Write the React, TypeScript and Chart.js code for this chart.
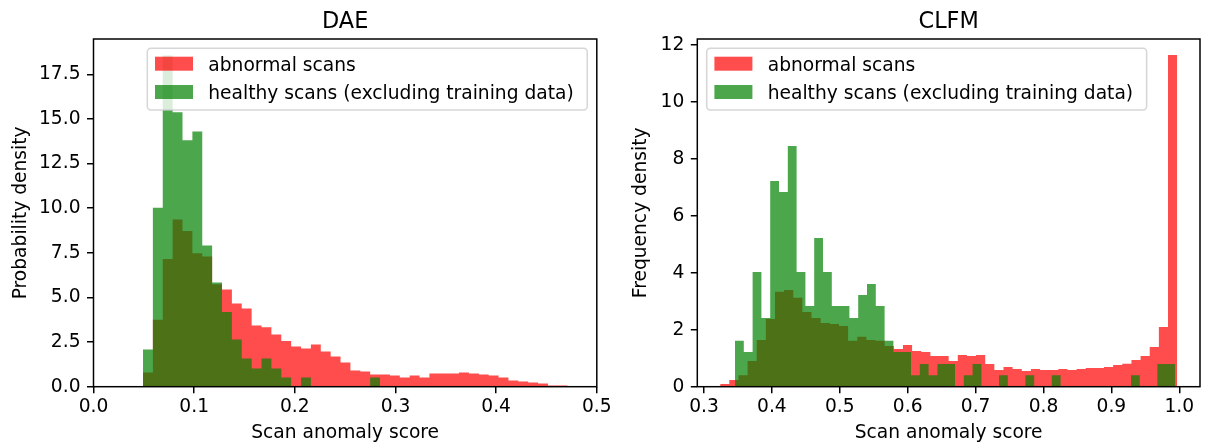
import React, { useEffect, useRef } from "react";
import { Chart, registerables } from "chart.js";

Chart.register(...registerables);

// ---------------- data ----------------
const seriesLabels = ["abnormal scans", "healthy scans (excluding training data)"];

// DAE panel: both histograms share the same bin grid
const daeBinStart = 0.04917;
const daeBinWidth = 0.009812;
const daeAbnormal = [
  0.8, 3.75, 7.16, 9.37, 8.73, 7.48, 7.29, 5.74, 5.45, 4.66, 4.38, 3.43, 3.33, 2.92, 2.56,
  2.25, 2.14, 2.36, 1.97, 1.69, 1.36, 0.91, 0.85, 0.68, 0.68, 0.63, 0.52, 0.63, 0.52, 0.74,
  0.74, 0.74, 0.8, 0.74, 0.68, 0.63, 0.52, 0.35, 0.29, 0.24, 0.18, 0.07, 0.07,
];
const daeHealthy = [
  2.08, 10.02, 18.55, 15.38, 13.81, 14.3, 7.91, 5.84, 4.19, 2.64, 1.58, 1.02, 1.58, 1.02,
  0.52, 0, 0.52, 0, 0, 0, 0, 0, 0, 0.52,
];
const daeXTicks = [0, 0.1, 0.2, 0.3, 0.4, 0.5];
const daeYTicks = [0, 2.5, 5, 7.5, 10, 12.5, 15, 17.5];

// CLFM panel: each histogram has its own 50-bin grid
const clfmAbnormalStart = 0.32378;
const clfmAbnormalWidth = 0.013461;
const clfmAbnormal = [
  0.095, 0.235, 0.4, 0.9, 1.64, 2.38, 3.33, 3.4, 3.12, 2.62,
  2.41, 2.24, 2.2, 2.13, 1.61, 1.75, 1.64, 1.61, 1.43, 1.32,
  1.46, 1.25, 1.22, 1.08, 1.08, 0.9, 1.11, 1.08, 1.11, 0.8,
  0.59, 0.69, 0.62, 0.55, 0.62, 0.59, 0.59, 0.62, 0.59, 0.62,
  0.66, 0.66, 0.69, 0.76, 0.81, 0.94, 1.08, 1.39, 2.1, 11.65,
];
const clfmHealthyStart = 0.34566;
const clfmHealthyWidth = 0.01296;
const clfmHealthy = [
  1.61, 1.22, 4.03, 2.41, 7.22, 6.84, 8.45, 4.03, 2.83, 5.22,
  4.03, 2.83, 2.83, 2.41, 3.22, 3.61, 2.83, 1.61, 1.22, 1.22,
  0.4, 0.8, 0.4, 0.8, 0.8, 0, 0.4, 0.8, 0, 0,
  0.4, 0, 0, 0.4, 0, 0, 0.4, 0, 0, 0,
  0, 0, 0, 0, 0, 0.4, 0, 0, 0.8, 0.8,
];
const clfmXTicks = [0.3, 0.4, 0.5, 0.6, 0.7, 0.8, 0.9, 1.0];
const clfmYTicks = [0, 2, 4, 6, 8, 10, 12];

// ---------------- styling ----------------
const FONT = "'DejaVu Sans', sans-serif";
const FS = 18.67;
const TITLE_FS = 22.4;
const RED = "rgba(255,0,0,0.7)";
const GREEN = "rgba(0,128,0,0.7)";
const LW = 1.49;

type Pt = { x: number; y: number };
function histogram(start: number, width: number, values: number[]): Pt[] {
  const pts: Pt[] = values.map((v, i) => ({ x: start + i * width, y: v }));
  pts.push({ x: start + values.length * width, y: 0 });
  return pts;
}

type Panel = {
  title: string;
  yLabel: string;
  left: number;
  width: number;
  yAxisWidth: number;
  rightPad: number;
  yTitlePad: number;
  xMin: number;
  xMax: number;
  yMax: number;
  xTicks: number[];
  yTicks: number[];
  yDecimals: number;
  abnormal: Pt[];
  healthy: Pt[];
  legendLeft: (a: { left: number; right: number }) => number;
};

const panels: Panel[] = [
  {
    title: "DAE",
    yLabel: "Probability density",
    left: 0,
    width: 625,
    yAxisWidth: 93.5,
    rightPad: 28.2,
    yTitlePad: 9.6,
    xMin: 0,
    xMax: 0.5,
    yMax: 19.48,
    xTicks: daeXTicks,
    yTicks: daeYTicks,
    yDecimals: 1,
    abnormal: histogram(daeBinStart, daeBinWidth, daeAbnormal),
    healthy: histogram(daeBinStart, daeBinWidth, daeHealthy),
    legendLeft: () => 147.3,
  },
  {
    title: "CLFM",
    yLabel: "Frequency density",
    left: 603,
    width: 604,
    yAxisWidth: 94.3,
    rightPad: 7,
    yTitlePad: 26.6,
    xMin: 0.29013,
    xMax: 1.03049,
    yMax: 12.21,
    xTicks: clfmXTicks,
    yTicks: clfmYTicks,
    yDecimals: 0,
    abnormal: histogram(clfmAbnormalStart, clfmAbnormalWidth, clfmAbnormal),
    healthy: histogram(clfmHealthyStart, clfmHealthyWidth, clfmHealthy),
    legendLeft: (a) => a.left + 9.4,
  },
];

const HEIGHT = 445;
const PLOT_TOP = 39;
const PLOT_BOTTOM = 386.7;

function decorPlugin(p: Panel) {
  return {
    id: "decor",
    afterDraw(chart: any) {
      const ctx: CanvasRenderingContext2D = chart.ctx;
      const a = chart.chartArea;
      ctx.save();
      // title
      ctx.fillStyle = "#000";
      ctx.font = `${TITLE_FS}px ${FONT}`;
      ctx.textAlign = "center";
      ctx.textBaseline = "alphabetic";
      ctx.fillText(p.title, (a.left + a.right) / 2, a.top - 11.2);

      // legend
      ctx.font = `${FS}px ${FONT}`;
      const tw = Math.max(...seriesLabels.map((l) => ctx.measureText(l).width));
      const L = p.legendLeft(a);
      const T = a.top + 9.3;
      const W = 61 + tw + 13.5;
      const H = 61.7;
      const r = 3.7;
      ctx.beginPath();
      ctx.moveTo(L + r, T);
      ctx.lineTo(L + W - r, T);
      ctx.arcTo(L + W, T, L + W, T + r, r);
      ctx.lineTo(L + W, T + H - r);
      ctx.arcTo(L + W, T + H, L + W - r, T + H, r);
      ctx.lineTo(L + r, T + H);
      ctx.arcTo(L, T + H, L, T + H - r, r);
      ctx.lineTo(L, T + r);
      ctx.arcTo(L, T, L + r, T, r);
      ctx.closePath();
      ctx.fillStyle = "rgba(255,255,255,0.8)";
      ctx.fill();
      ctx.strokeStyle = "rgba(204,204,204,0.8)";
      ctx.lineWidth = 1.5;
      ctx.stroke();

      const rows = [8.4, 36.7];
      const colors = [RED, GREEN];
      ctx.textAlign = "left";
      ctx.textBaseline = "alphabetic";
      rows.forEach((off, i) => {
        ctx.fillStyle = colors[i];
        ctx.fillRect(L + 7.7, T + off, 38, 14);
        ctx.fillStyle = "#000";
        ctx.fillText(seriesLabels[i], L + 61, T + off + 14);
      });

      // frame (spines)
      ctx.strokeStyle = "#000";
      ctx.lineWidth = LW;
      ctx.strokeRect(a.left, a.top, a.right - a.left, a.bottom - a.top);
      ctx.restore();
    },
  };
}

function PanelChart({ p }: { p: Panel }) {
  const ref = useRef<HTMLCanvasElement | null>(null);
  useEffect(() => {
    if (!ref.current) return;
    const tickFont = { family: FONT, size: FS };
    const grid = {
      display: true,
      drawOnChartArea: false,
      drawTicks: true,
      tickLength: 6.5,
      tickWidth: LW,
      tickColor: "#000",
      color: "#000",
      lineWidth: LW,
    };
    const chart = new Chart(ref.current, {
      type: "line",
      data: {
        datasets: [
          {
            label: seriesLabels[1],
            data: p.healthy,
            stepped: true,
            fill: "origin",
            backgroundColor: GREEN,
            borderColor: "rgba(0,0,0,0)",
            borderWidth: 0,
            pointRadius: 0,
            pointHoverRadius: 0,
          },
          {
            label: seriesLabels[0],
            data: p.abnormal,
            stepped: true,
            fill: "origin",
            backgroundColor: RED,
            borderColor: "rgba(0,0,0,0)",
            borderWidth: 0,
            pointRadius: 0,
            pointHoverRadius: 0,
          },
        ],
      },
      options: {
        animation: false,
        responsive: false,
        events: [],
        layout: { padding: { left: 0, right: p.rightPad, top: PLOT_TOP, bottom: 0 } },
        plugins: {
          legend: { display: false },
          title: { display: false },
          tooltip: { enabled: false },
        },
        scales: {
          x: {
            type: "linear",
            min: p.xMin,
            max: p.xMax,
            afterBuildTicks: (s: any) => {
              s.ticks = p.xTicks.map((v) => ({ value: v }));
            },
            afterFit: (s: any) => {
              s.height = HEIGHT - PLOT_BOTTOM;
              s.paddingLeft = 0;
              s.paddingRight = 0;
            },
            grid,
            border: { display: false },
            ticks: {
              color: "#000",
              font: tickFont,
              padding: 3,
              maxRotation: 0,
              autoSkip: false,
              callback: (v: any) => Number(v).toFixed(1),
            },
            title: {
              display: true,
              text: "Scan anomaly score",
              color: "#000",
              font: tickFont,
              padding: { top: 0, bottom: 1 },
            },
          },
          y: {
            type: "linear",
            min: 0,
            max: p.yMax,
            afterBuildTicks: (s: any) => {
              s.ticks = p.yTicks.map((v) => ({ value: v }));
            },
            afterFit: (s: any) => {
              s.width = p.yAxisWidth;
              s.paddingTop = 0;
              s.paddingBottom = 0;
            },
            grid,
            border: { display: false },
            ticks: {
              color: "#000",
              font: tickFont,
              padding: 6.5,
              autoSkip: false,
              callback: (v: any) => Number(v).toFixed(p.yDecimals),
            },
            title: {
              display: true,
              text: p.yLabel,
              color: "#000",
              font: tickFont,
              padding: { top: p.yTitlePad, bottom: 0 },
            },
          },
        },
      },
      plugins: [decorPlugin(p)],
    } as any);
    return () => chart.destroy();
  }, [p]);
  return (
    <canvas
      ref={ref}
      width={p.width}
      height={HEIGHT}
      style={{
        position: "absolute",
        left: p.left,
        top: 0,
        width: p.width,
        height: HEIGHT,
        display: "block",
      }}
    />
  );
}

export default function App() {
  return (
    <div
      style={{
        position: "absolute",
        left: 0,
        top: 0,
        width: 1207,
        height: HEIGHT,
        background: "#fff",
        overflow: "hidden",
      }}
    >
      {panels.map((p) => (
        <PanelChart key={p.title} p={p} />
      ))}
    </div>
  );
}
